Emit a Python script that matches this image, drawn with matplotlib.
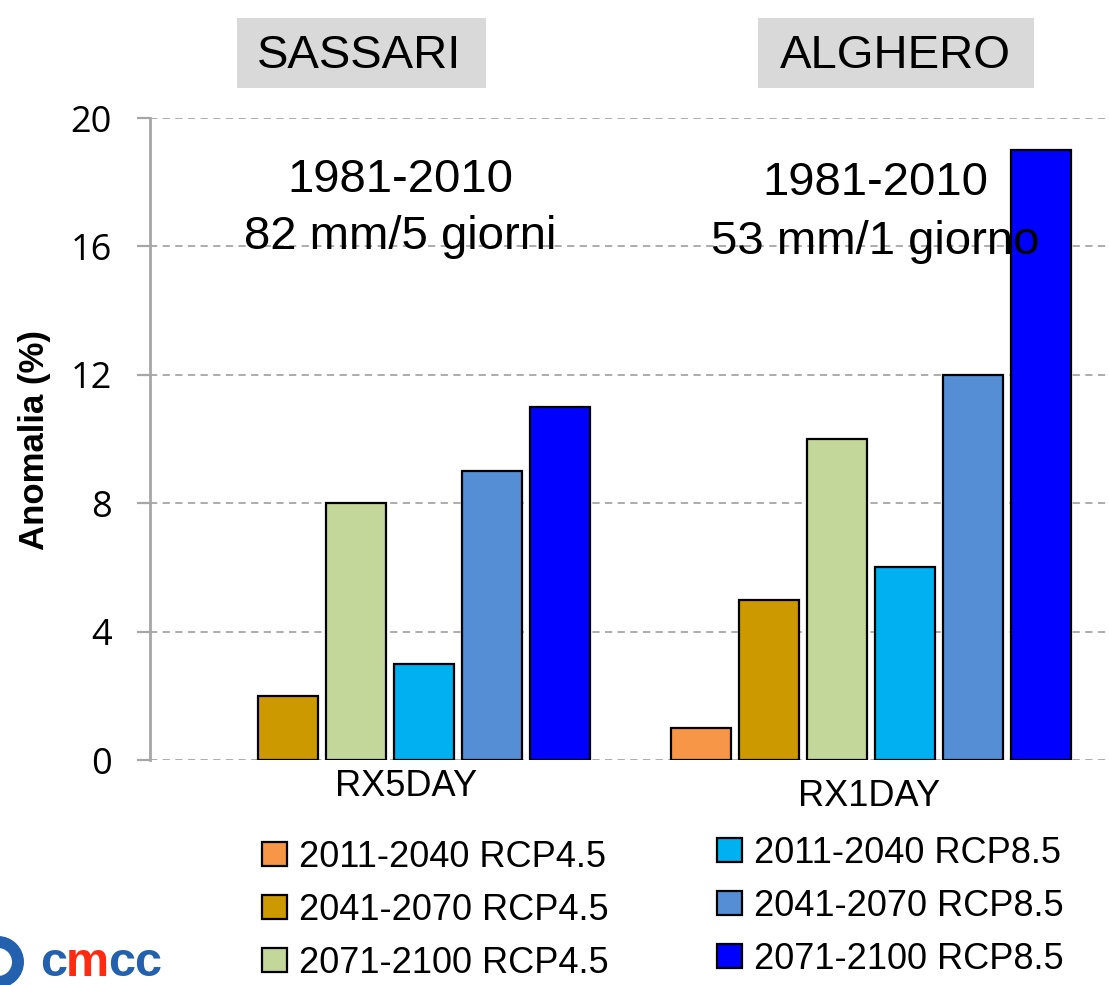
import numpy as np
import matplotlib
matplotlib.use("Agg")
import matplotlib.pyplot as plt
from matplotlib.patches import Rectangle, Circle
from matplotlib.transforms import IdentityTransform

# ---------------- data ----------------
categories = ['RX5DAY', 'RX1DAY']
stations = ['SASSARI', 'ALGHERO']
series_labels = ['2011-2040 RCP4.5', '2041-2070 RCP4.5', '2071-2100 RCP4.5',
                 '2011-2040 RCP8.5', '2041-2070 RCP8.5', '2071-2100 RCP8.5']
rcp45_2011_2040 = [0, 1]
rcp45_2041_2070 = [2, 5]
rcp45_2071_2100 = [8, 10]
rcp85_2011_2040 = [3, 6]
rcp85_2041_2070 = [9, 12]
rcp85_2071_2100 = [11, 19]
baseline_text = ['1981-2010\n82 mm/5 giorni', '1981-2010\n53 mm/1 giorno']
yticks = [0, 4, 8, 12, 16, 20]

series_values = [rcp45_2011_2040, rcp45_2041_2070, rcp45_2071_2100,
                 rcp85_2011_2040, rcp85_2041_2070, rcp85_2071_2100]
colors = ['#F79646', '#CC9900', '#C4D79B', '#00B0F0', '#558ED5', '#0000FF']

# ---------------- figure ----------------
W, H = 1109, 985
fig = plt.figure(figsize=(W / 100, H / 100), dpi=100)


def fx(px):
    return px / W


def fy(py):
    return 1 - py / H


ax = fig.add_axes([fx(150), fy(760), fx(1109) - fx(150), fy(118) - fy(760)])

x = np.arange(len(categories))
step = 0.1414
width = 0.1237
containers = []
for i, (vals, col, lab) in enumerate(zip(series_values, colors, series_labels)):
    v = np.array(vals, dtype=float)
    v[v == 0] = np.nan
    c = ax.bar(x + (i - 2.5) * step, v, width=width, color=col,
               edgecolor='black', linewidth=1.6, label=lab, zorder=3)
    containers.append(c)

ax.set_xlim((150 - 390) / 481, (1109 - 390) / 481)
ax.set_ylim(0, 20)
ax.set_yticks(yticks)
ax.set_xticks([])
ax.yaxis.grid(True, linestyle=(0, (4, 3)), color='#a6a6a6', linewidth=1.3)
ax.set_axisbelow(True)
for s in ['top', 'right', 'bottom']:
    ax.spines[s].set_visible(False)
ax.spines['left'].set_color('#a6a6a6')
ax.spines['left'].set_linewidth(2)
ax.tick_params(axis='y', direction='out', length=9.4, width=1.6,
               color='#a6a6a6', labelsize=26, pad=18)
for t in ax.get_yticklabels():
    t.set_fontfamily('Open Sans')

# y label
fig.text(fx(35), fy(440), 'Anomalia (%)', rotation=90, ha='center', va='center',
         fontsize=25, fontweight='bold', family='Liberation Sans')

# category labels
cat_offsets = [(16, -26), (-2, -36)]
for xi, lab, off in zip(x, categories, cat_offsets):
    ax.annotate(lab, xy=(xi, 0), xycoords='data', xytext=off,
                textcoords='offset pixels', ha='center', va='center',
                fontsize=26, family='Liberation Sans')

# baseline annotations
base_pos = [(400, 175, 232), (875, 178, 237)]
for txt, (cx, y1, y2) in zip(baseline_text, base_pos):
    l1, l2 = txt.split('\n')
    fig.text(fx(cx), fy(y1 + 17), l1, ha='center', va='baseline',
             fontsize=34, family='Liberation Sans', zorder=10)
    fig.text(fx(cx), fy(y2 + 17), l2, ha='center', va='baseline',
             fontsize=34, family='Liberation Sans', zorder=10)

# station title boxes
boxes = [(237, 486, 359), (758, 1034, 895)]
for name, (x0, x1, cx) in zip(stations, boxes):
    fig.add_artist(Rectangle((fx(x0), fy(88)), fx(x1) - fx(x0), fy(18) - fy(88),
                             transform=fig.transFigure, facecolor='#d9d9d9',
                             edgecolor='none'))
    fig.text(fx(cx), fy(68), name, ha='center', va='baseline', fontsize=34,
             family='Liberation Sans')

# legends
handles = [c.patches[1] for c in containers]
leg_kw = dict(frameon=False, prop={'family': 'Liberation Sans', 'size': 26},
              handlelength=0.69, handleheight=0.64, handletextpad=0.33,
              labelspacing=0.5, borderpad=0, borderaxespad=0, loc='upper left')
leg1 = fig.legend(handles[:3], series_labels[:3], bbox_to_anchor=(fx(262), fy(840)),
                  **leg_kw)
leg2 = fig.legend(handles[3:], series_labels[3:], bbox_to_anchor=(fx(717), fy(836)),
                  **leg_kw)

# cmcc logo
fig.add_artist(Circle((-2, H - 962), 20, transform=IdentityTransform(),
                      facecolor='none', edgecolor='#2360ad', linewidth=8.6))
t1 = fig.text(fx(40), fy(976), 'c', fontsize=35, fontweight='bold',
              family='Liberation Sans', color='#2360ad', va='baseline')
t2 = fig.text(0, 0, 'm', fontsize=35, fontweight='bold', family='Liberation Sans',
              color='#ff2a12', va='baseline')
t3 = fig.text(0, 0, 'cc', fontsize=35, fontweight='bold', family='Liberation Sans',
              color='#2360ad', va='baseline')
fig.canvas.draw()
r = fig.canvas.get_renderer()
bb1 = t1.get_window_extent(r)
t2.set_position((bb1.x1 / W - 0.001, fy(976)))
fig.canvas.draw()
bb2 = t2.get_window_extent(r)
t3.set_position((bb2.x1 / W - 0.001, fy(976)))

fig.savefig('out.png', dpi=100)
